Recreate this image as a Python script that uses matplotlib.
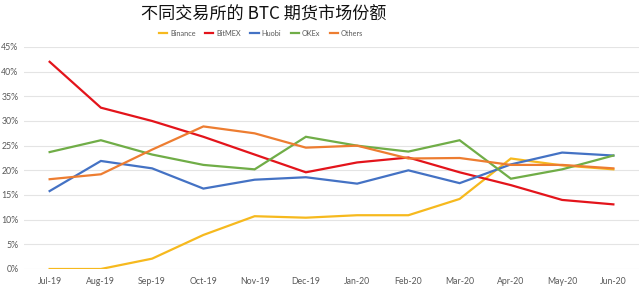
import matplotlib
matplotlib.use("Agg")
import matplotlib.pyplot as plt
from matplotlib.ticker import FuncFormatter, MultipleLocator

months = ["Jul-19", "Aug-19", "Sep-19", "Oct-19", "Nov-19", "Dec-19",
          "Jan-20", "Feb-20", "Mar-20", "Apr-20", "May-20", "Jun-20"]
binance = [0.0, 0.0, 2.1, 6.9, 10.7, 10.4, 10.9, 10.9, 14.2, 22.4, 21.0, 20.2]
bitmex = [42.0, 32.7, 30.0, 26.8, 23.2, 19.6, 21.6, 22.6, 19.6, 17.0, 14.0, 13.1]
huobi = [15.8, 21.9, 20.4, 16.3, 18.1, 18.6, 17.3, 20.0, 17.4, 21.2, 23.6, 23.0]
okex = [23.7, 26.1, 23.2, 21.1, 20.2, 26.8, 25.0, 23.8, 26.1, 18.3, 20.2, 23.0]
others = [18.2, 19.2, 24.2, 28.9, 27.5, 24.6, 25.0, 22.4, 22.5, 21.1, 21.1, 20.4]

series = [("Binance", binance, "#F6B91E"),
          ("BitMEX", bitmex, "#E3141B"),
          ("Huobi", huobi, "#4472C4"),
          ("OKEx", okex, "#70AD47"),
          ("Others", others, "#ED7D31")]

fig = plt.figure(figsize=(6.4, 2.88), dpi=100)
ax = fig.add_axes([24/640, 19/288, 615/640, 222/288])

x = list(range(len(months)))
for name, vals, col in series:
    ax.plot(x, vals, color=col, lw=1.6, label=name, solid_joinstyle="miter")

ax.set_xlim(-0.5, 11.5)
ax.set_ylim(0, 45)
ax.yaxis.set_major_locator(MultipleLocator(5))
ax.yaxis.set_major_formatter(FuncFormatter(lambda v, p: f"{int(round(v))}%"))
ax.set_xticks(x)
ax.set_xticklabels(months)
ax.grid(axis="y", color="#e4e4e4", lw=0.8)
ax.set_axisbelow(True)
for s in ax.spines.values():
    s.set_visible(False)
ax.tick_params(axis="both", length=0, labelsize=6.3, colors="#595959")
ax.tick_params(axis="y", pad=4)
ax.tick_params(axis="x", pad=6)
for lab in ax.get_xticklabels() + ax.get_yticklabels():
    lab.set_family(["Lato", "DejaVu Sans"])

fig.text(264/640, 1 - 15/288, "不同交易所的 BTC 期货市场份额",
         ha="center", va="center", fontsize=12.3,
         family=["Noto Sans CJK SC", "DejaVu Sans"], color="#111111")

leg = fig.legend(loc="center", bbox_to_anchor=(261/640, 1 - 33/288), ncol=5,
                 frameon=False, handlelength=1.1, handletextpad=0.4,
                 columnspacing=1.3, prop={"family": ["Lato", "DejaVu Sans"], "size": 5.3})
for t in leg.get_texts():
    t.set_color("#595959")

fig.savefig("out.png", dpi=100)
